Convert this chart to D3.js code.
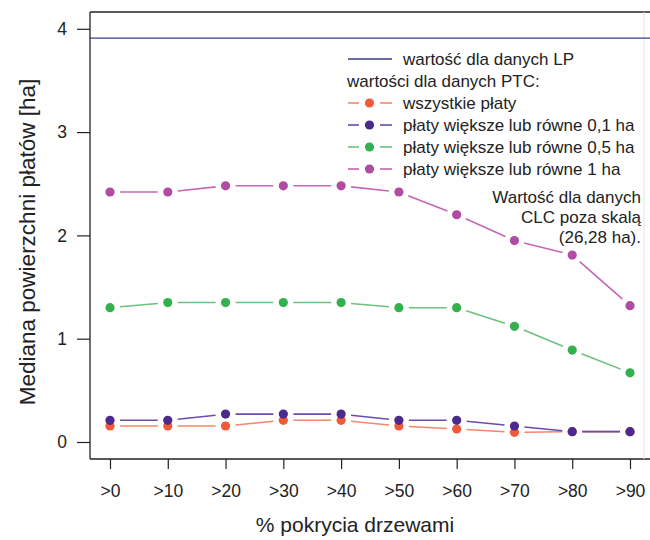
<!DOCTYPE html>
<html>
<head>
<meta charset="utf-8">
<script src="https://cdn.jsdelivr.net/npm/d3@7"></script>
<style>
  html, body { margin: 0; padding: 0; background: #fff; }
  svg { display: block; font-family: "Liberation Sans", Arial, sans-serif; }
</style>
</head>
<body>
<svg id="chart" width="650" height="540"></svg>
<script>
// Tree-cover classes on the x axis
const categories = [">0", ">10", ">20", ">30", ">40", ">50", ">60", ">70", ">80", ">90"];

// Median patch area [ha] for PTC data, by minimum patch size
const allPatches   = [0.155, 0.155, 0.155, 0.21, 0.21, 0.155, 0.126, 0.094, 0.10, 0.10];
const patches01    = [0.21, 0.21, 0.27, 0.27, 0.27, 0.21, 0.21, 0.155, 0.10, 0.10];
const patches05    = [1.30, 1.35, 1.35, 1.35, 1.35, 1.30, 1.30, 1.12, 0.89, 0.67];
const patches1     = [2.42, 2.42, 2.48, 2.48, 2.48, 2.42, 2.20, 1.95, 1.81, 1.32];

// Reference value for LP data
const lpValue = 3.91;

const yTicks = [0, 1, 2, 3, 4];

const seriesNames = [
  "wszystkie płaty",
  "płaty większe lub równe 0,1 ha",
  "płaty większe lub równe 0,5 ha",
  "płaty większe lub równe 1 ha"
];
const dotColors  = ["#f05a36", "#4a2a8c", "#35b04f", "#b24ba2"];
const lineColors = ["#f5876a", "#6a4cae", "#6cc17d", "#c566b6"];

const series = [allPatches, patches01, patches05, patches1].map((vals, k) => ({
  name: seriesNames[k],
  values: vals,
  dot: dotColors[k],
  line: lineColors[k]
}));

const svg = d3.select("#chart");

const box = { left: 90, top: 12, right: 650, bottom: 459 };

const x = d3.scalePoint().domain(categories).range([110, 630]);
const y = d3.scaleLinear().domain([0, 4]).range([442, 28.8]);

// Plot frame (open on the right, faint edge)
svg.append("line").attr("x1", box.left).attr("x2", box.right).attr("y1", box.top).attr("y2", box.top)
  .attr("stroke", "#222").attr("stroke-width", 1.3);
svg.append("line").attr("x1", box.left).attr("x2", box.right).attr("y1", box.bottom).attr("y2", box.bottom)
  .attr("stroke", "#222").attr("stroke-width", 1.3);
svg.append("line").attr("x1", box.left).attr("x2", box.left).attr("y1", box.top).attr("y2", box.bottom)
  .attr("stroke", "#222").attr("stroke-width", 1.3);
svg.append("line").attr("x1", 644).attr("x2", 644).attr("y1", box.top).attr("y2", box.bottom)
  .attr("stroke", "#e4e4e4").attr("stroke-width", 1);

// Y axis
const yAxis = svg.append("g")
  .attr("transform", `translate(${box.left},0)`)
  .call(d3.axisLeft(y).tickValues(yTicks).tickFormat(d3.format("d")).tickSize(13).tickPadding(10));
yAxis.select(".domain").remove();
yAxis.selectAll(".tick line").attr("stroke", "#222").attr("stroke-width", 1.2);
yAxis.selectAll(".tick text").attr("font-size", 17.5).attr("fill", "#222")
  .attr("font-family", "'Liberation Sans', Arial, sans-serif");

// X axis
const xAxis = svg.append("g")
  .attr("transform", `translate(0,${box.bottom})`)
  .call(d3.axisBottom(x).tickSize(10).tickPadding(16));
xAxis.select(".domain").remove();
xAxis.selectAll(".tick line").attr("stroke", "#222").attr("stroke-width", 1.2);
xAxis.selectAll(".tick text").attr("font-size", 17.5).attr("fill", "#222")
  .attr("font-family", "'Liberation Sans', Arial, sans-serif");

// Axis titles
svg.append("text")
  .attr("transform", `translate(27,242) rotate(-90)`)
  .attr("text-anchor", "middle")
  .attr("dominant-baseline", "central")
  .attr("font-size", 22.5).attr("fill", "#222")
  .text("Mediana powierzchni płatów [ha]");

svg.append("text")
  .attr("x", 355).attr("y", 532)
  .attr("text-anchor", "middle")
  .attr("font-size", 21).attr("fill", "#222")
  .text("% pokrycia drzewami");

// LP reference line
svg.append("line")
  .attr("x1", box.left).attr("x2", box.right)
  .attr("y1", y(lpValue)).attr("y2", y(lpValue))
  .attr("stroke", "#3b3a85").attr("stroke-width", 1.3);

// Series: segments between points, with a gap around each point
const gap = 10;
series.forEach(s => {
  const pts = s.values.map((v, i) => [x(categories[i]), y(v)]);
  const segs = d3.pairs(pts).map(([a, b]) => {
    const dx = b[0] - a[0], dy = b[1] - a[1];
    const len = Math.hypot(dx, dy);
    const ux = dx / len, uy = dy / len;
    return [a[0] + ux * gap, a[1] + uy * gap, b[0] - ux * gap, b[1] - uy * gap];
  });
  const g = svg.append("g");
  g.selectAll("line").data(segs).join("line")
    .attr("x1", d => d[0]).attr("y1", d => d[1])
    .attr("x2", d => d[2]).attr("y2", d => d[3])
    .attr("stroke", s.line).attr("stroke-width", 1.6);
});
series.forEach(s => {
  svg.append("g").selectAll("circle").data(s.values).join("circle")
    .attr("cx", (d, i) => x(categories[i]))
    .attr("cy", d => y(d))
    .attr("r", 4.6)
    .attr("fill", s.dot);
});

// Legend
const legend = svg.append("g");
legend.append("line").attr("x1", 348).attr("x2", 392).attr("y1", 59).attr("y2", 59)
  .attr("stroke", "#3b3a85").attr("stroke-width", 1.3);
legend.append("text").attr("x", 403).attr("y", 59).attr("dy", "0.35em")
  .attr("font-size", 17).attr("fill", "#222").text("wartość dla danych LP");
legend.append("text").attr("x", 347).attr("y", 81).attr("dy", "0.35em")
  .attr("font-size", 17).attr("fill", "#222").text("wartości dla danych PTC:");

const rows = legend.selectAll("g.row").data(series).join("g")
  .attr("class", "row")
  .attr("transform", (d, i) => `translate(0,${103 + i * 22})`);
rows.append("line").attr("x1", 348).attr("x2", 359).attr("y1", 0).attr("y2", 0)
  .attr("stroke", d => d.line).attr("stroke-width", 1.6);
rows.append("line").attr("x1", 380).attr("x2", 392).attr("y1", 0).attr("y2", 0)
  .attr("stroke", d => d.line).attr("stroke-width", 1.6);
rows.append("circle").attr("cx", 369.5).attr("cy", 0).attr("r", 4.6).attr("fill", d => d.dot);
rows.append("text").attr("x", 403).attr("y", 0).attr("dy", "0.35em")
  .attr("font-size", 17).attr("fill", "#222").text(d => d.name);

// Note about CLC value off the scale
const note = ["Wartość dla danych", "CLC poza skalą", "(26,28 ha)."];
svg.append("g").selectAll("text").data(note).join("text")
  .attr("x", 641).attr("y", (d, i) => 197 + i * 20).attr("dy", "0.35em")
  .attr("text-anchor", "end")
  .attr("font-size", 17).attr("fill", "#222")
  .text(d => d);
</script>
</body>
</html>
